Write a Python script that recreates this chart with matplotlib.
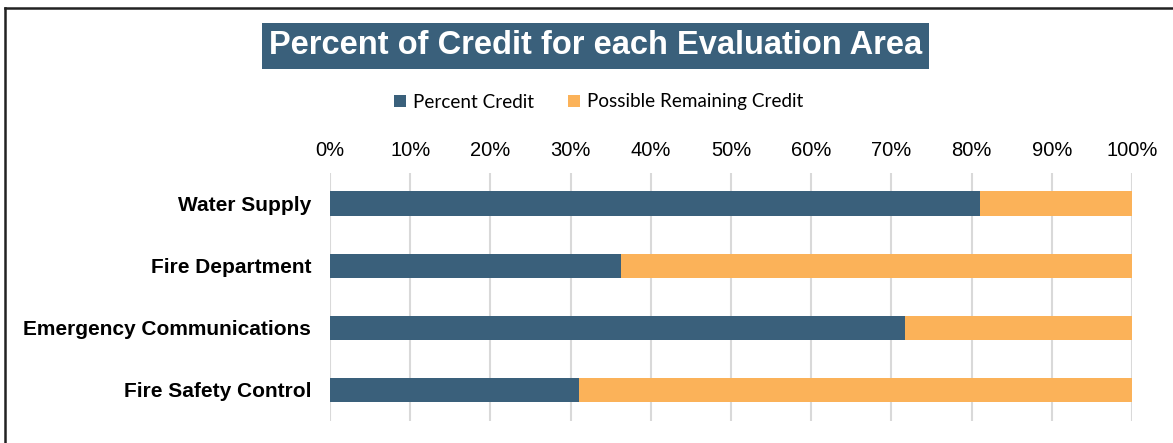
import numpy as np
import matplotlib
matplotlib.use('Agg')
import matplotlib.pyplot as plt
from matplotlib.patches import Patch
from matplotlib.ticker import PercentFormatter
from matplotlib.lines import Line2D

# chart data
areas = ['Water Supply', 'Fire Department', 'Emergency Communications', 'Fire Safety Control']
percent_credit = [81.1, 36.3, 71.7, 31.0]
remaining_credit = [100 - v for v in percent_credit]
xticks = [0, 10, 20, 30, 40, 50, 60, 70, 80, 90, 100]

blue = '#3A607B'
orange = '#FBB259'

W, H = 1173, 443
fig = plt.figure(figsize=(W/100, H/100), dpi=100)
fig.patch.set_facecolor('white')

ax = fig.add_axes([330/W, 1-421/H, (1132-330)/W, (421-172.7)/H])

y = np.arange(len(areas))
ax.barh(y, percent_credit, height=0.395, color=blue, zorder=3)
ax.barh(y, remaining_credit, left=percent_credit, height=0.395, color=orange, zorder=3)

ax.set_xlim(0, 100)
ax.set_ylim(len(areas)-0.5, -0.5)
ax.set_xticks(xticks)
ax.xaxis.set_major_formatter(PercentFormatter(decimals=0))
ax.xaxis.tick_top()
ax.tick_params(axis='x', length=0, pad=9, labelsize=14.5, colors='black')
ax.tick_params(axis='y', length=0, pad=13.5)
ax.set_yticks(y)
ax.set_yticklabels(areas, fontsize=15, fontweight='bold', family='Liberation Sans')
for lab in ax.get_xticklabels():
    lab.set_family('Liberation Sans')
ax.grid(axis='x', color='#D9D9D9', linewidth=1.5, zorder=0)
for s in ax.spines.values():
    s.set_visible(False)

# title in a filled box
fig.text(595.5/W, 1-46/H, 'Percent of Credit for each Evaluation Area',
         ha='center', va='center', color='white', fontsize=23.5, fontweight='bold',
         family='Liberation Sans',
         bbox=dict(boxstyle='square,pad=0.22', facecolor=blue, edgecolor='none'))

handles = [Patch(facecolor=blue, label='Percent Credit'),
           Patch(facecolor=orange, label='Possible Remaining Credit')]
fig.legend(handles=handles, loc='center', bbox_to_anchor=(598.5/W, 1-102/H), ncol=2,
           frameon=False, prop={'family': 'Lato', 'size': 13.6},
           handlelength=0.65, handleheight=0.65, handletextpad=0.35, columnspacing=1.8)

# outer frame (top and left edges)
fig.add_artist(Line2D([5/W, 1], [1-8/H, 1-8/H], color='#222222', linewidth=1.8, transform=fig.transFigure))
fig.add_artist(Line2D([5/W, 5/W], [0, 1-8/H], color='#222222', linewidth=1.8, transform=fig.transFigure))

fig.savefig('out.png', dpi=100)
